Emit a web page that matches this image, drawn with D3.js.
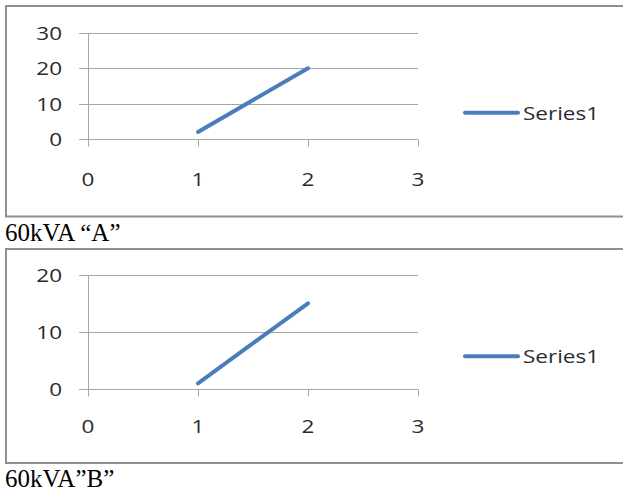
<!DOCTYPE html>
<html>
<head>
<meta charset="utf-8">
<script src="https://cdn.jsdelivr.net/npm/d3@7"></script>
<style>
  html, body { margin: 0; padding: 0; background: #fff; }
  svg { display: block; }
</style>
</head>
<body>
<svg id="chart" width="623" height="493"></svg>
<script>
// Two small line charts, one per 60kVA unit
const xTicks = [0, 1, 2, 3];

const xValuesA = [1, 2];
const seriesA = [2, 20];
const yTicksA = [0, 10, 20, 30];

const xValuesB = [1, 2];
const seriesB = [1, 15];
const yTicksB = [0, 10, 20];

const seriesName = "Series1";
const captionA = "60kVA \u201cA\u201d";
const captionB = "60kVA\u201dB\u201d";

const svg = d3.select("#chart");
const gridColor = "#a6a6a6";
const lineColor = "#4a7ebb";
const textColor = "#2b2b2b";
const stretch = 1.25;

// chart text is drawn slightly widened horizontally
function label(g, x, y, str, anchor) {
  g.append("g")
    .attr("transform", `translate(${x},${y}) scale(${stretch},1)`)
    .append("text")
    .attr("text-anchor", anchor)
    .attr("dominant-baseline", "central")
    .attr("font-family", "'Open Sans', sans-serif")
    .attr("font-size", 18)
    .attr("fill", textColor)
    .text(str);
}

function drawChart(cfg) {
  const g = svg.append("g");

  // frame (its right side runs past the page edge)
  g.append("rect")
    .attr("x", 6).attr("y", cfg.boxTop)
    .attr("width", 640).attr("height", cfg.boxBottom - cfg.boxTop)
    .attr("fill", "#fff")
    .attr("stroke", "#8f8f8f").attr("stroke-width", 2);

  const x = d3.scaleLinear().domain([0, 3]).range([88, 418]);
  const y = d3.scaleLinear().domain([0, d3.max(cfg.yTicks)]).range([cfg.y0, cfg.yTop]);

  // horizontal gridlines with their outer tick marks
  g.append("g").selectAll("line").data(cfg.yTicks).join("line")
    .attr("x1", 79).attr("x2", x(3))
    .attr("y1", d => Math.round(y(d)) + 0.5).attr("y2", d => Math.round(y(d)) + 0.5)
    .attr("stroke", gridColor).attr("stroke-width", 1);

  // vertical axis line
  g.append("line")
    .attr("x1", x(0) + 0.5).attr("x2", x(0) + 0.5)
    .attr("y1", Math.round(y(d3.max(cfg.yTicks))) + 0.5).attr("y2", Math.round(y(0)) + 0.5)
    .attr("stroke", gridColor);

  // x tick marks
  g.append("g").selectAll("line").data(xTicks).join("line")
    .attr("x1", d => Math.round(x(d)) + 0.5).attr("x2", d => Math.round(x(d)) + 0.5)
    .attr("y1", Math.round(y(0)) + 0.5).attr("y2", Math.round(y(0)) + 7.5)
    .attr("stroke", gridColor);

  // y tick labels
  cfg.yTicks.forEach(t => label(g, 62, y(t), String(t), "end"));
  // x tick labels
  xTicks.forEach(t => label(g, x(t), cfg.xLabelY, String(t), "middle"));

  // series line
  const pts = cfg.xs.map((v, i) => [v, cfg.values[i]]);
  g.append("path")
    .datum(pts)
    .attr("d", d3.line().x(d => x(d[0])).y(d => y(d[1])))
    .attr("fill", "none")
    .attr("stroke", lineColor).attr("stroke-width", 4)
    .attr("stroke-linecap", "round");

  // legend
  g.append("line")
    .attr("x1", 465).attr("x2", 518)
    .attr("y1", cfg.legendY).attr("y2", cfg.legendY)
    .attr("stroke", lineColor).attr("stroke-width", 4)
    .attr("stroke-linecap", "round");
  label(g, 523, cfg.legendY, seriesName, "start");

  // caption under the frame
  svg.append("text")
    .attr("x", 5).attr("y", cfg.captionY)
    .attr("font-family", "'Liberation Serif', 'Times New Roman', serif")
    .attr("font-size", 25)
    .attr("fill", "#000")
    .text(cfg.caption);
}

drawChart({
  boxTop: 6, boxBottom: 216.5,
  y0: 139, yTop: 33,
  yTicks: yTicksA, xs: xValuesA, values: seriesA,
  xLabelY: 178.5, legendY: 112.7,
  caption: captionA, captionY: 241
});

drawChart({
  boxTop: 249, boxBottom: 463,
  y0: 389, yTop: 274.7,
  yTicks: yTicksB, xs: xValuesB, values: seriesB,
  xLabelY: 425.5, legendY: 356.3,
  caption: captionB, captionY: 487
});
</script>
</body>
</html>
